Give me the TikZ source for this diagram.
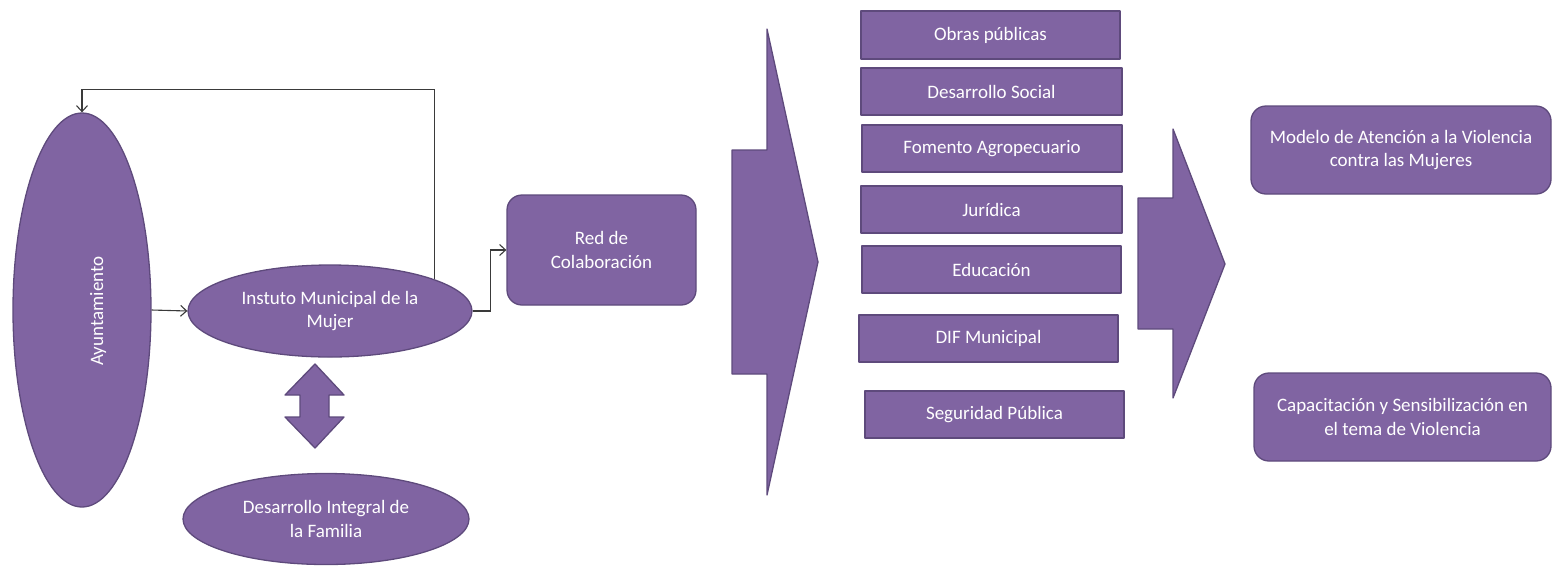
\documentclass[tikz,border=0pt]{standalone}
\usepackage{fontspec}
\setmainfont{Carlito}
\usetikzlibrary{shapes.geometric,arrows.meta}
\definecolor{pfill}{HTML}{8064A2}
\definecolor{pline}{HTML}{5E4A7C}
\definecolor{cline}{HTML}{3A3A3A}
\tikzset{
  txt/.style={font=\fontsize{19}{23.5}\selectfont, text=white, align=center},
  pshape/.style={fill=pfill, draw=pline, line width=1.3pt, line join=round},
  oval/.style={pshape, ellipse, inner sep=0pt, txt},
  sqbox/.style={pshape, rectangle, inner sep=0pt, txt},
  rbox/.style={pshape, rectangle, rounded corners=15pt, inner sep=0pt, txt},
  conn/.style={draw=cline, line width=1.1pt, -{Straight Barb[length=6pt,width=11pt,line width=1.1pt]}},
}
\begin{document}
\begin{tikzpicture}[x=1pt,y=-1pt]
\useasboundingbox (0,0) rectangle (1554,566);

% left column
\node[oval, minimum width=138pt, minimum height=394pt] (ayun) at (82,310) {};
\node[txt, rotate=90] (ayuntxt) at (98,311) {Ayuntamiento};
\node[oval, minimum width=284pt, minimum height=92pt] (inst) at (330,311) {Instuto Municipal de la\\Mujer};
\node[oval, minimum width=286pt, minimum height=91pt] (dif) at (326,519) {Desarrollo Integral de\\la Familia};
\node[rbox, minimum width=189pt, minimum height=110pt] (red) at (601.5,250) {Red de\\Colaboraci\'on};

% double arrow
\path[pshape] (315,364) -- (344,395) -- (329,395) -- (329,417) -- (344,417) -- (315,448)
  -- (285,417) -- (300,417) -- (300,395) -- (285,395) -- cycle;

% connectors
\draw[conn] (ayun.east) -- (inst.west);
\draw[conn] (inst.17.6) -- ++(0,-190) -| (ayun.north);
\draw[conn] (inst.east) -- ++(18,0) |- (red.west);

% big chevron
\path[pshape] (732,150) -- (767,150) -- (767,29) -- (818,262) -- (767,495) -- (767,374) -- (732,374) -- cycle;

% column of boxes
\node[sqbox, minimum width=259pt, minimum height=48pt] (obras) at (990.5,35) {Obras p\'ublicas};
\node[sqbox, minimum width=261pt, minimum height=47pt] (dsoc) at (991.5,91.5) {Desarrollo Social};
\node[sqbox, minimum width=260pt, minimum height=47pt] (fom) at (992,148.5) {Fomento Agropecuario};
\node[sqbox, minimum width=261pt, minimum height=47pt] (jur) at (991.5,209.5) {Jur\'idica};
\node[sqbox, minimum width=259pt, minimum height=47pt] (edu) at (991.5,269.5) {Educaci\'on};
\node[sqbox, minimum width=259pt, minimum height=47pt] (difm) at (988.5,338.5) {DIF Municipal};
\node[sqbox, minimum width=259pt, minimum height=47pt] (seg) at (994.5,414.5) {Seguridad P\'ublica};

% right chevron
\path[pshape] (1138,198) -- (1173,198) -- (1173,129) -- (1225,264) -- (1173,398) -- (1173,329) -- (1138,329) -- cycle;

% right boxes
\node[rbox, minimum width=300pt, minimum height=88pt] (modelo) at (1401,150) {Modelo de Atenci\'on a la Violencia\\contra las Mujeres};
\node[rbox, minimum width=297pt, minimum height=88pt] (capac) at (1402.5,417) {Capacitaci\'on y Sensibilizaci\'on en\\el tema de Violencia};
\end{tikzpicture}
\end{document}
